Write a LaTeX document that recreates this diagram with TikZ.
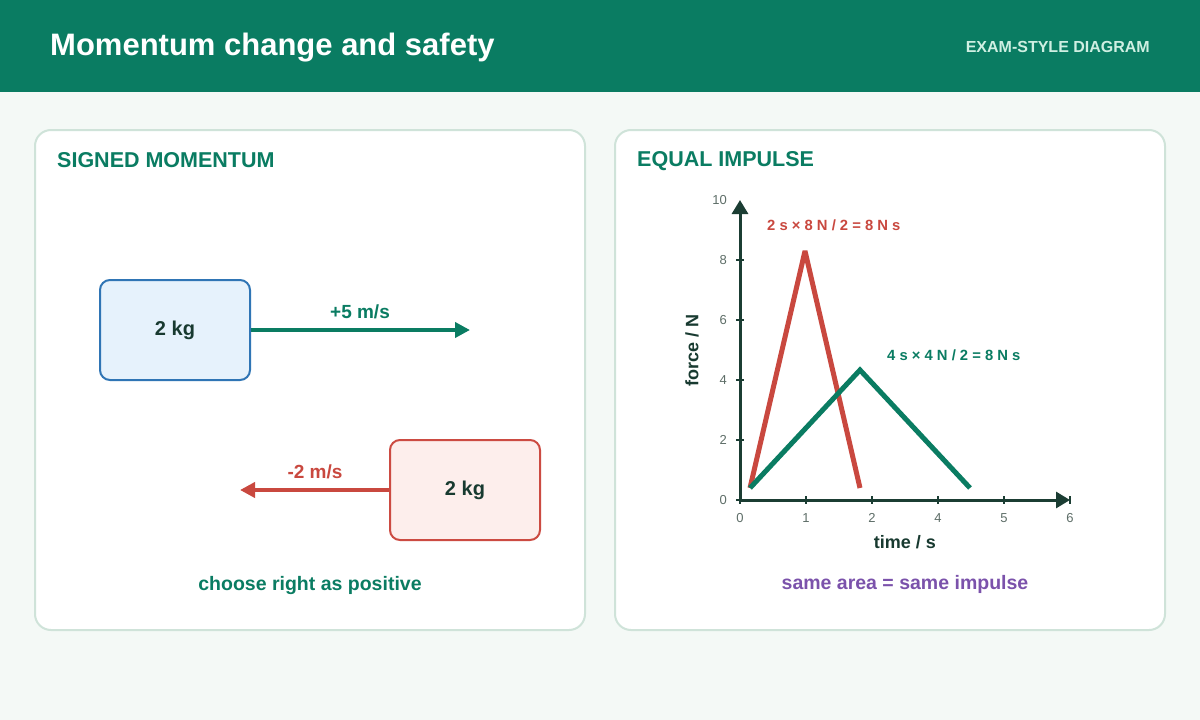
\documentclass[tikz,border=0pt]{standalone}
\usepackage{fontspec}
\setmainfont{Liberation Sans}
\usetikzlibrary{arrows.meta}
\definecolor{bg}{HTML}{F4F9F6}
\definecolor{hdr}{HTML}{0A7C62}
\definecolor{tagc}{HTML}{CFEFE2}
\definecolor{cardb}{HTML}{CFE3D9}
\definecolor{gr}{HTML}{0A7C62}
\definecolor{rd}{HTML}{C9483F}
\definecolor{dk}{HTML}{183A30}
\definecolor{axc}{HTML}{1B3D33}
\definecolor{tickc}{HTML}{5E6E68}
\definecolor{pu}{HTML}{7B52AB}
\definecolor{bfill}{HTML}{E6F2FC}
\definecolor{bdraw}{HTML}{2F75B5}
\definecolor{rfill}{HTML}{FDEEEC}
\definecolor{rdraw}{HTML}{CC4B42}
\newcommand{\fs}[1]{\fontsize{#1}{#1}\selectfont}
\tikzset{
  card/.style={draw=cardb, fill=white, line width=2pt, rounded corners=16pt},
  massbox/.style={minimum width=150pt, minimum height=100pt, rounded corners=10pt, line width=2pt, font=\fs{20}\bfseries, text=dk, inner sep=0pt},
  heading/.style={anchor=west, font=\fs{21.5}\bfseries, text=gr, inner sep=0pt},
  varrow/.style={line width=4pt, -{Triangle[length=15pt,width=15pt]}},
  vlabel/.style={font=\fs{19}\bfseries, inner sep=0pt},
  axis/.style={line width=3pt, draw=axc, -{Triangle[length=14pt,width=16pt]}},
  tickm/.style={line width=2pt, draw=axc},
  ticklab/.style={font=\fs{13}, text=tickc, inner sep=0pt},
  axlab/.style={font=\fs{18}\bfseries, text=dk, inner sep=0pt},
  curve/.style={line width=5pt, miter limit=3},
  note/.style={font=\fs{14.8}\bfseries, inner sep=0pt, anchor=west},
  caption/.style={font=\fs{19.5}\bfseries, inner sep=0pt}
}
\begin{document}
\begin{tikzpicture}[x=1pt,y=-1pt]
\useasboundingbox (0,0) rectangle (1200,720);
\fill[bg] (0,0) rectangle (1200,720);
\fill[hdr] (0,0) rectangle (1200,92);
\node[anchor=west, font=\fs{31}\bfseries, text=white, inner sep=0pt] (title) at (50,48) {Momentum change and safety};
\node[anchor=east, font=\fs{16}\bfseries, text=tagc, inner sep=0pt] (tag) at (1150,47) {EXAM-STYLE DIAGRAM};
% cards
\draw[card] (35,130) rectangle (585,630);
\draw[card] (615,130) rectangle (1165,630);
\node[heading] (h1) at (57,160) {SIGNED MOMENTUM};
\node[heading] (h2) at (637,161) {EQUAL IMPULSE};
% left panel
\node[massbox, draw=bdraw, fill=bfill] (b1) at (175,330) {\raisebox{-1pt}{2 kg}};
\coordinate (g1) at (470,330);
\draw[varrow, draw=gr, fill=gr] (b1.east) -- (g1);
\node[vlabel, text=gr] (l1) at (360,312) {+5 m/s};
\node[massbox, draw=rdraw, fill=rfill] (b2) at (465,490) {\raisebox{-1pt}{2 kg}};
\coordinate (r1) at (240,490);
\draw[varrow, draw=rd, fill=rd] (b2.west) -- (r1);
\node[vlabel, text=rd] (l2) at (315,472) {-2 m/s};
\node[caption, text=gr] (c1) at (310,585) {choose right as positive};
% right panel: axes
\coordinate (O) at (740,500);
\coordinate (X) at (1070,500);
\coordinate (Y) at (740,200);
\foreach \i/\lab in {0/0,1/1,2/2,3/4,4/5,5/6} {
  \draw[tickm] (740+66*\i,496) -- (740+66*\i,504);
  \node[ticklab] (xt\i) at (740+66*\i,518) {\lab};
}
\foreach \j in {0,1,2,3,4} {
  \draw[tickm] (736,500-60*\j) -- (744,500-60*\j);
}
\foreach \j in {0,1,2,3,4,5} {
  \pgfmathtruncatemacro{\v}{2*\j}
  \node[ticklab, anchor=east] (yt\j) at (727,500-60*\j) {\v};
}
\draw[axis, fill=axc] (O) -- (X);
\draw[axis, fill=axc] (O) -- (Y);
\node[axlab, rotate=90] (fy) at (692,350) {force / N};
\node[axlab] (tx) at (905,542) {time / s};
% curves
\coordinate (rs) at (750,488);
\coordinate (rp) at (805,251);
\coordinate (re) at (860,488);
\coordinate (gs) at (750,488);
\coordinate (gp) at (860,370);
\coordinate (ge) at (970,488);
\draw[curve, draw=rd] (rs) -- (rp) -- (re);
\draw[curve, draw=gr] (gs) -- (gp) -- (ge);
\node[note, text=rd] (n1) at (767,225) {2 s × 8 N / 2 = 8 N s};
\node[note, text=gr] (n2) at (887,355) {4 s × 4 N / 2 = 8 N s};
\node[caption, text=pu] (c2) at (905,584) {same area = same impulse};
\end{tikzpicture}
\end{document}
